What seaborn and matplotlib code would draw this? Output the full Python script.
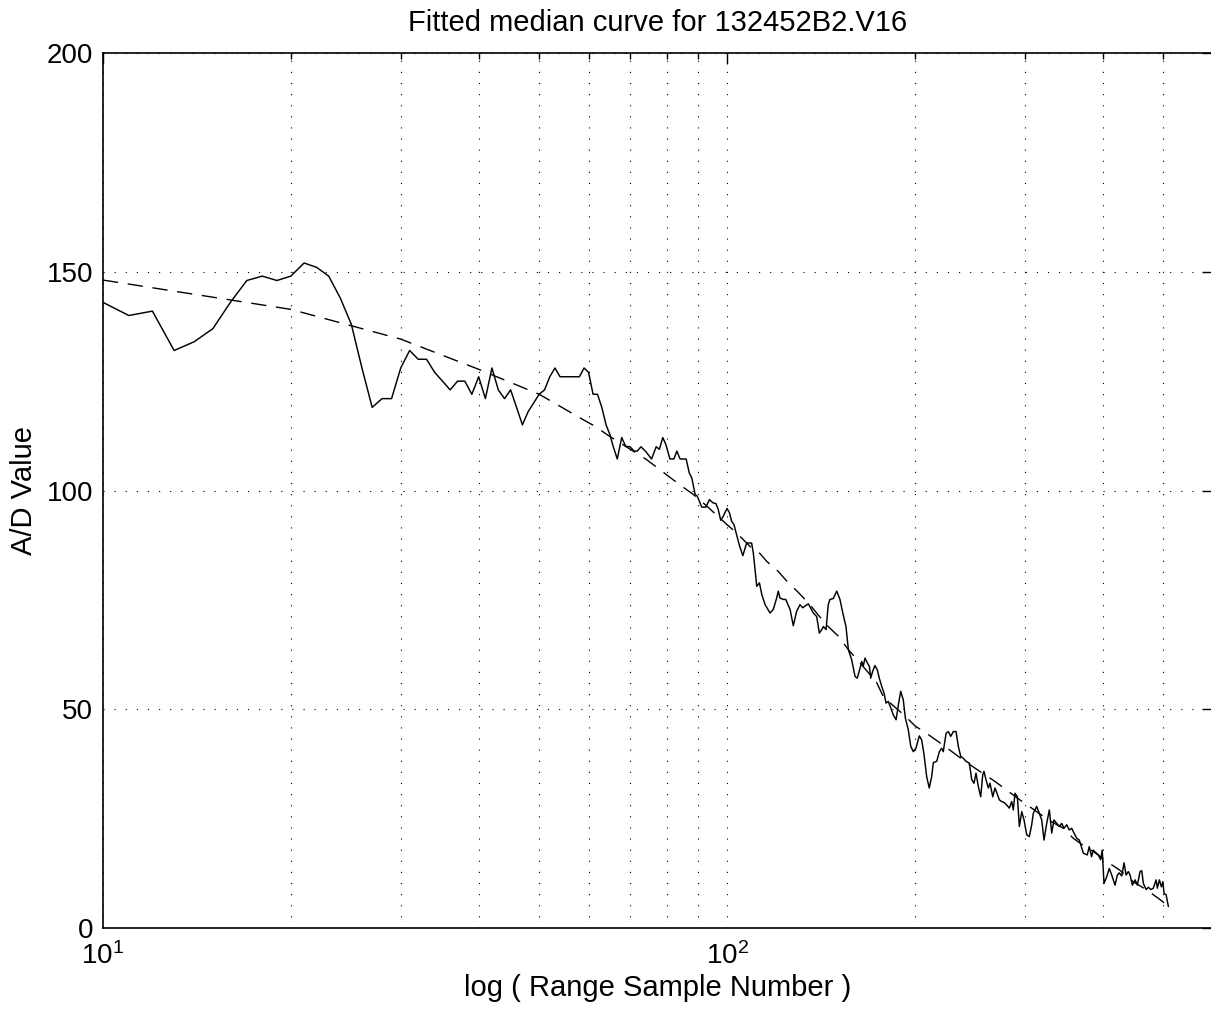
import matplotlib
matplotlib.use("Agg")
import matplotlib.pyplot as plt
import matplotlib.ticker as mticker
import seaborn as sns
import pandas as pd

# ---------------- data ----------------
sample_number = [
    10, 11, 12, 13, 14, 15, 16, 17, 18, 19, 20, 21, 22, 23, 24, 25, 26, 27, 28, 29,
    30, 31, 32, 33, 34, 35, 36, 37, 38, 39, 40, 41, 42, 43, 44, 45, 46, 47, 48, 49,
    50, 51, 52, 53, 54, 55, 56, 57, 58, 59, 60, 61, 62, 63, 64,
    64.9, 65.7, 66.7, 67.8, 68.8, 69.9, 71.0, 71.8, 72.8, 74.2, 75.7, 77.0, 77.9, 78.9,
    79.8, 81.0, 82.2, 83.1, 84.1, 86.0, 87.0, 87.8, 88.9, 89.6, 91.1, 92.5, 93.7, 94.9,
    96.0, 96.8, 97.7, 98.6, 100.0, 100.9, 101.7, 102.6, 103.6, 104.6, 106.0, 107.5,
    109.5, 110.2, 111.6, 112.7, 113.7, 115.1, 117.2, 118.6, 120.1, 120.8, 121.6, 123.1,
    124.2, 126.2, 127.7, 129.3, 130.9,
    132.2, 135.0, 137.5, 139.2, 140.6, 141.8, 142.7, 144.1, 145.3, 146.2, 148.0, 149.9,
    151.7, 153.3, 155.1, 156.5, 158.4, 160.4, 161.7, 163.4, 164.4, 165.4, 166.4, 167.8,
    169.1, 169.9, 171.2, 172.6, 174.1, 175.4, 177.0, 178.5, 179.8, 181.3, 183.0, 184.7,
    186.6, 188.2, 189.8, 191.6, 193.1, 195.2, 197.0, 198.9, 200.8, 203.3, 205.1, 206.9,
    208.9, 210.9, 212.8, 214.1, 216.8, 218.9, 220.8, 222.1, 224.4, 226.3, 228.3, 230.5,
    232.8, 234.8, 236.9, 239.1, 241.5, 244.5, 246.7, 248.8, 250.6, 252.8, 255.0, 256.9,
    258.1, 260.0, 262.3, 263.9, 266.6, 268.8, 270.5, 273.1, 275.6, 277.9, 280.7, 283.4,
    285.9, 287.6, 289.4, 291.9, 294.1, 296.7, 299.2, 302.2, 305.1, 307.8, 309.6, 313.5,
    316.6, 319.4, 322.1, 325.3, 328.5, 331.4, 334.2, 337.6, 340.8, 343.8, 346.8, 350.2,
    353.6, 356.7, 359.8, 363.4, 366.9,
    372.4, 377.8, 380.6, 383.9, 386.2, 390.0, 393.5, 397.0, 399.3, 401.9, 405.9, 409.8,
    413.5, 415.9, 418.6, 422.2, 425.3, 429.1, 432.8, 436.0, 439.7, 442.5, 446.3, 450.8,
    454.6, 459.1, 462.0, 464.7, 469.4, 473.4, 477.6, 482.2, 487.0, 489.4, 493.0, 496.7,
    499.3, 501.7, 505.4, 509.7,
]
ad_value = [
    143, 140, 141, 132, 134, 137, 143, 148, 149, 148, 149, 152, 151, 149, 144, 138, 128, 119, 121, 121,
    128, 132, 130, 130, 127, 125, 123, 125, 125, 122, 126, 121, 128, 123, 121, 123, 119, 115, 118, 120,
    122, 123, 126, 128, 126, 126, 126, 126, 126, 128, 127, 122, 122, 119, 115,
    112.8, 110.1, 107.2, 112.1, 110.1, 110.0, 109.0, 109.0, 110.0, 108.8, 107.2, 110.0, 109.4, 112.1,
    110.5, 107.2, 107.2, 109.0, 107.2, 107.2, 104.0, 102.9, 99.1, 98.7, 96.2, 96.2, 97.9, 97.2,
    97.0, 95.7, 93.2, 94.1, 95.9, 94.9, 93.0, 92.2, 89.9, 87.6, 85.1, 88.0,
    88.0, 85.7, 78.1, 78.9, 76.2, 73.9, 72.0, 72.8, 75.4, 77.0, 75.4, 75.1,
    75.1, 72.8, 69.1, 72.4, 73.9,
    73.2, 74.1, 72.0, 71.2, 67.4, 68.2, 68.9, 68.2, 73.9, 75.1, 75.3, 77.0,
    75.1, 72.0, 68.9, 63.6, 61.3, 57.5, 57.1, 59.4, 60.9, 60.0, 61.7, 60.6,
    59.8, 57.1, 58.7, 60.0, 59.0, 57.1, 55.2, 53.7, 51.4, 51.8, 50.3, 48.7,
    47.6, 51.0, 54.1, 52.2, 48.0, 45.3, 41.5, 40.3, 41.1, 43.9, 43.0, 39.6,
    34.6, 32.0, 34.6, 37.8, 38.1, 40.3, 41.1, 40.3, 44.5, 44.9, 43.8, 44.9,
    44.9, 41.5, 39.2, 38.8, 38.1, 37.7, 33.9, 33.1, 35.4, 32.3, 30.0, 35.0,
    35.8, 33.9, 32.0, 33.1, 30.0, 32.0, 31.0, 29.3, 28.9, 28.7, 28.1, 27.4,
    28.9, 27.0, 30.8, 30.0, 23.2, 26.6, 24.7, 21.3, 20.9, 23.6, 26.2, 27.8,
    26.2, 24.7, 20.1, 23.9, 27.0, 21.7, 24.7, 23.9, 23.2, 23.9, 22.8, 23.6,
    22.4, 22.8, 21.7, 20.5, 20.1,
    17.1, 16.7, 18.6, 16.3, 17.8, 17.2, 16.7, 15.6, 17.8, 10.2, 11.7, 13.6,
    12.1, 11.0, 9.8, 12.1, 12.6, 11.9, 14.9, 12.1, 12.9, 12.1, 9.8, 11.0,
    9.8, 12.9, 13.1, 10.2, 8.8, 9.3, 8.8, 9.1, 11.0, 9.1, 11.0, 9.4,
    10.6, 7.9, 7.6, 4.9,
]

fit_sample_number = [
    10, 20, 30, 40, 50, 58.8, 61.4, 64.5, 73.9, 77.2, 80.5, 84.6, 88.3, 92.2, 95.7, 100,
    103.6, 108.9, 112.9, 115.8, 120.8, 125.4, 130.1, 135.8, 139.9, 145.3, 150.8, 156.5,
    161.7, 168.4, 173.7, 178.0, 184.7, 192.1, 200.1, 210.2, 223.6, 234.8, 245.2, 259.1,
    268.8, 281.3, 291.9, 307.8, 327.3, 345.9, 358.9, 374.7, 386.4, 409.9, 425.3, 447.4,
    470.5, 493.0, 509.6,
]
fit_value = [
    148.1, 141.4, 134.6, 127.7, 122.0, 116.2, 114.7, 112.6, 107.3, 105.3, 103.3, 101.0,
    99.1, 96.8, 94.7, 92.2, 90.3, 87.2, 85.6, 83.8, 81.5, 78.9, 76.7, 73.9, 71.6, 68.9,
    66.7, 63.6, 61.3, 58.4, 56.1, 52.9, 50.8, 48.7, 46.2, 44.2, 41.5, 39.2, 37.3, 35.0,
    33.5, 31.4, 29.7, 27.4, 24.7, 22.8, 20.5, 18.6, 17.5, 14.8, 13.3, 10.6, 8.7, 6.6, 5.0,
]

title_text = "Fitted median curve for 132452B2.V16"
x_label = "log ( Range Sample Number )"
y_label = "A/D Value"
y_ticks = [0, 50, 100, 150, 200]

# ---------------- style ----------------
sns.set_style("white")
plt.rcParams["font.family"] = ["Liberation Sans", "DejaVu Sans"]
plt.rcParams["mathtext.fontset"] = "custom"
plt.rcParams["mathtext.rm"] = "Liberation Sans"
plt.rcParams["mathtext.it"] = "Liberation Sans:italic"
plt.rcParams["mathtext.bf"] = "Liberation Sans:bold"
plt.rcParams["text.color"] = "black"
plt.rcParams["axes.labelcolor"] = "black"
plt.rcParams["xtick.color"] = "black"
plt.rcParams["ytick.color"] = "black"

W, H = 1211, 1013
fig = plt.figure(figsize=(W / 100, H / 100), dpi=100)
fig.patch.set_facecolor("white")

left_px, right_px, top_px, bottom_px = 103, 1212.6, 53, 928
ax = fig.add_axes([left_px / W, 1 - bottom_px / H,
                   (right_px - left_px) / W, (bottom_px - top_px) / H])

df = pd.DataFrame({"x": sample_number, "y": ad_value})
fit_df = pd.DataFrame({"x": fit_sample_number, "y": fit_value})

sns.lineplot(data=df, x="x", y="y", ax=ax, color="black", linewidth=1.05,
             estimator=None, errorbar=None, sort=False)
sns.lineplot(data=fit_df, x="x", y="y", ax=ax, color="black", linewidth=1.0,
             estimator=None, errorbar=None, sort=False)
ax.get_lines()[-1].set_linestyle((0, (11, 7)))

ax.set_xscale("log")
ax.set_xlim(10, 600)
ax.set_ylim(0, 200)
ax.set_yticks(y_ticks)
ax.xaxis.set_major_locator(mticker.LogLocator(base=10))
ax.xaxis.set_minor_locator(mticker.LogLocator(base=10, subs=range(2, 10)))
ax.xaxis.set_minor_formatter(mticker.NullFormatter())

ax.grid(True, which="both", axis="x", color="black", linestyle=(0, (1, 9)), linewidth=0.8)
ax.grid(True, which="major", axis="y", color="black", linestyle=(0, (1, 9)), linewidth=0.8)

ax.tick_params(which="both", direction="in", top=True, right=True, color="black",
               labelcolor="black", width=1.0)
ax.tick_params(which="major", length=8)
ax.tick_params(which="minor", length=4)
ax.tick_params(axis="x", which="major", labelsize=20, pad=10)
ax.tick_params(axis="y", which="major", labelsize=20, pad=7)

for sp in ax.spines.values():
    sp.set_color("black")
    sp.set_linewidth(1.2)

ax.set_title(title_text, fontsize=21, pad=16, color="black")
ax.set_xlabel(x_label, fontsize=21, labelpad=3, color="black")
ax.set_ylabel(y_label, fontsize=21, labelpad=6, color="black")

fig.savefig("out.png", dpi=100, facecolor="white")
